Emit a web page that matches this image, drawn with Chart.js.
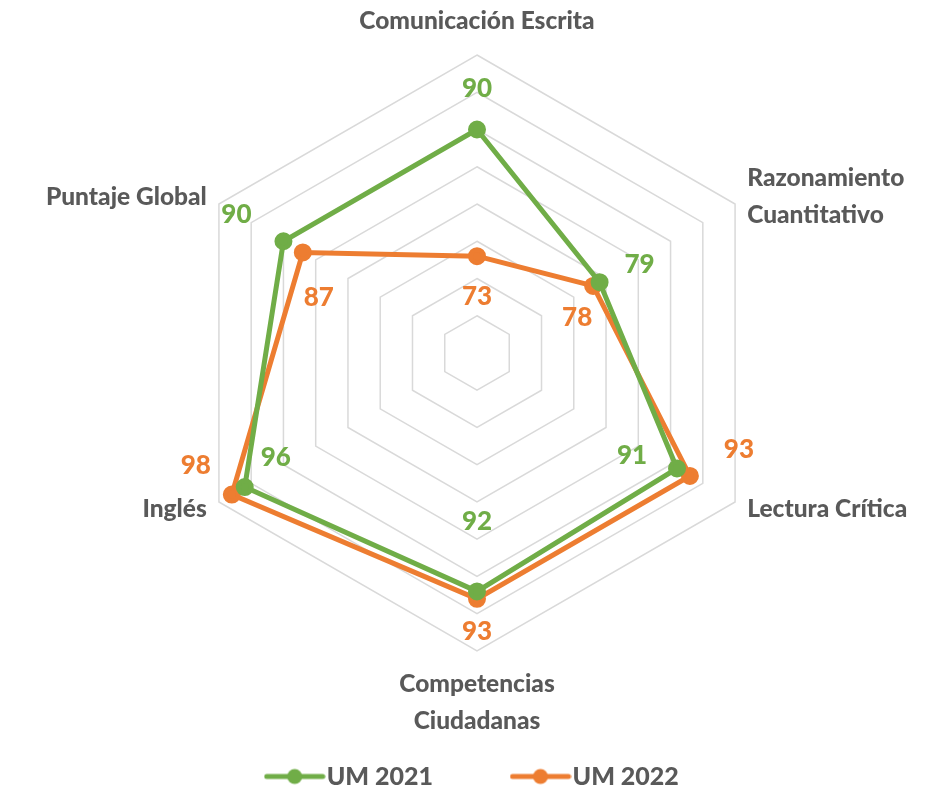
<!DOCTYPE html>
<html>
<head>
<meta charset="utf-8">
<script src="https://cdn.jsdelivr.net/npm/chart.js@4.4.0/dist/chart.umd.min.js"></script>
<style>
  html, body { margin: 0; padding: 0; background: #ffffff; }
</style>
</head>
<body>
<canvas id="radarChart" width="943" height="795"></canvas>
<script>
// Chart data
const categories = [
    ['Comunicación Escrita'],
    ['Razonamiento', 'Cuantitativo'],
    ['Lectura Crítica'],
    ['Competencias', 'Ciudadanas'],
    ['Inglés'],
    ['Puntaje Global']
];
const seriesNames = ['UM 2021', 'UM 2022'];
const um2021 = [90, 79, 91, 92, 96, 90];
const um2022 = [73, 78, 93, 93, 98, 87];
const scaleMin = 60;
const scaleMax = 100;
const scaleStep = 5;

// Colours and label nudges (pixels, relative to each point)
const green = '#70AD47';
const orange = '#ED7D31';
const textGray = '#595959';
const fontFamily = 'Lato, "Open Sans", sans-serif';
const nudge2021 = [[0, -41], [40, -18], [-45, -13], [0, -70], [31, -29], [-47, -27]];
const nudge2022 = [[0, 40], [-16, 32], [49, -26], [0, 33], [-36, -29], [16, 45]];

// Legend marker: line with a dot in the middle
function makeMarker(color) {
    const c = document.createElement('canvas');
    c.width = 62;
    c.height = 18;
    const g = c.getContext('2d');
    g.strokeStyle = color;
    g.lineWidth = 5;
    g.lineCap = 'round';
    g.beginPath();
    g.moveTo(3, 9);
    g.lineTo(59, 9);
    g.stroke();
    g.fillStyle = color;
    g.beginPath();
    g.arc(31, 9, 7.5, 0, Math.PI * 2);
    g.fill();
    return c;
}
const markers = [makeMarker(green), makeMarker(orange)];

// Category names around the outer ring
const categoryLabels = {
    id: 'categoryLabels',
    afterDraw(chart) {
        const scale = chart.scales.r;
        const ctx = chart.ctx;
        const lineH = 37;
        ctx.save();
        ctx.font = '900 24.5px ' + fontFamily;
        ctx.fillStyle = textGray;
        ctx.textBaseline = 'middle';
        chart.data.labels.forEach((lines, i) => {
            const angle = scale.getIndexAngle(i);
            const s = Math.sin(angle), c = Math.cos(angle);
            const v = scale.getPointPosition(i, scale.drawingArea);
            let x, top;
            if (Math.abs(s) < 0.1) {
                ctx.textAlign = 'center';
                x = v.x;
                top = c > 0 ? v.y - 15 - lines.length * lineH : v.y + 15;
            } else {
                const p = scale.getPointPosition(i, scale.drawingArea + 14);
                ctx.textAlign = s > 0 ? 'left' : 'right';
                x = p.x;
                top = p.y - lines.length * lineH / 2;
            }
            lines.forEach((t, k) => ctx.fillText(t, x, top + lineH * (k + 0.5)));
        });
        ctx.restore();
    }
};

// Value labels next to each point
const valueLabels = {
    id: 'valueLabels',
    afterDatasetsDraw(chart) {
        const ctx = chart.ctx;
        const nudges = [nudge2021, nudge2022];
        ctx.save();
        ctx.font = '900 26px ' + fontFamily;
        ctx.textAlign = 'center';
        ctx.textBaseline = 'middle';
        chart.data.datasets.forEach((ds, i) => {
            const meta = chart.getDatasetMeta(i);
            ctx.fillStyle = ds.borderColor;
            meta.data.forEach((pt, j) => {
                ctx.fillText(ds.data[j], pt.x + nudges[i][j][0], pt.y + nudges[i][j][1]);
            });
        });
        ctx.restore();
    }
};

const radarChart = new Chart(document.getElementById('radarChart'), {
    type: 'radar',
    data: {
        labels: categories,
        datasets: [
            {
                label: seriesNames[0],
                data: um2021,
                borderColor: green,
                backgroundColor: green,
                pointBackgroundColor: green,
                pointBorderColor: green,
                borderWidth: 5,
                pointRadius: 6.5,
                fill: false
            },
            {
                label: seriesNames[1],
                data: um2022,
                borderColor: orange,
                backgroundColor: orange,
                pointBackgroundColor: orange,
                pointBorderColor: orange,
                borderWidth: 5,
                pointRadius: 6.5,
                fill: false
            }
        ]
    },
    options: {
        responsive: false,
        animation: false,
        layout: {
            padding: { left: 179, right: 168, top: 30, bottom: -4 }
        },
        elements: { line: { tension: 0 } },
        scales: {
            r: {
                min: scaleMin,
                max: scaleMax,
                ticks: { display: false, stepSize: scaleStep },
                grid: { color: '#D9D9D9', lineWidth: 1.5 },
                angleLines: { display: false },
                pointLabels: { display: false }
            }
        },
        plugins: {
            tooltip: { enabled: false },
            legend: {
                position: 'bottom',
                labels: {
                    usePointStyle: true,
                    pointStyleWidth: 39,
                    padding: 88,
                    color: textGray,
                    font: { family: fontFamily, size: 25, weight: '900' },
                    generateLabels(chart) {
                        const items = Chart.defaults.plugins.legend.labels.generateLabels(chart);
                        items.forEach((it, i) => { it.pointStyle = markers[i]; });
                        return items;
                    }
                }
            }
        }
    },
    plugins: [categoryLabels, valueLabels]
});
</script>
</body>
</html>
